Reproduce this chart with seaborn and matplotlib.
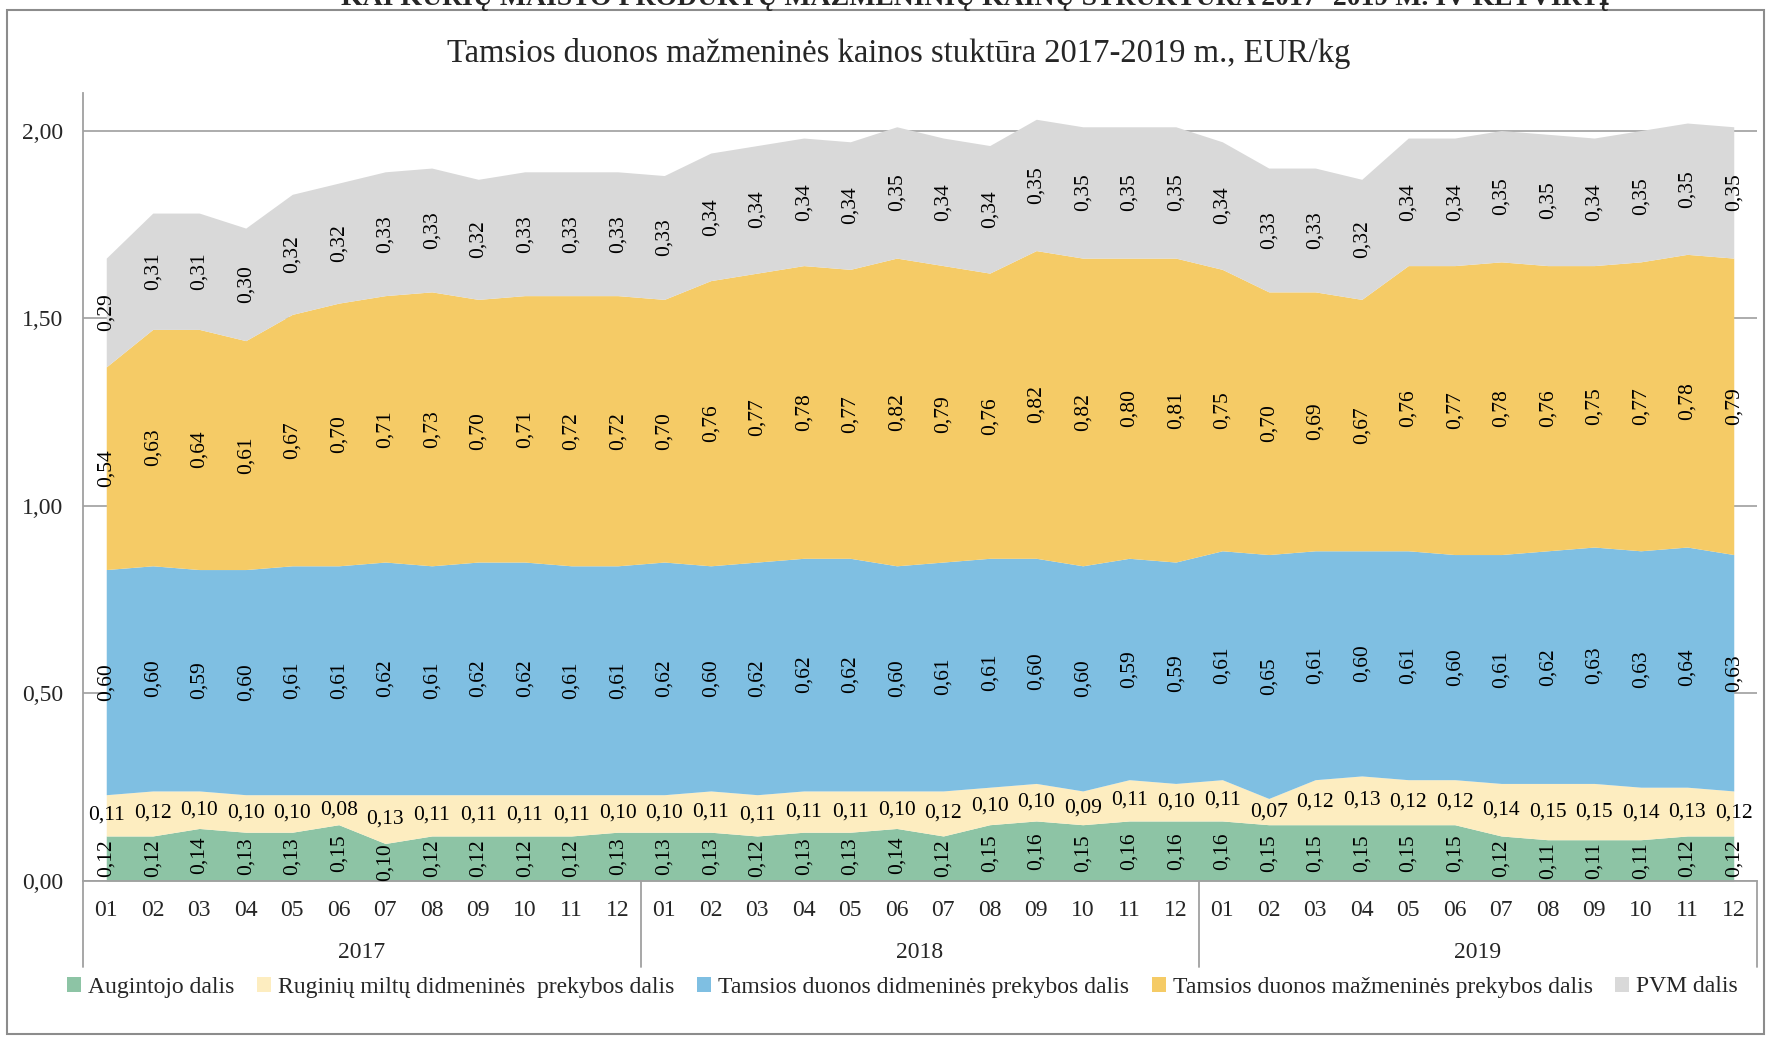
import numpy as np
import matplotlib
matplotlib.use("Agg")
import matplotlib.pyplot as plt
import matplotlib.transforms as mtransforms
from matplotlib.patches import Patch, Rectangle
import seaborn as sns

months = ["01", "02", "03", "04", "05", "06", "07", "08", "09", "10", "11", "12"]
years = ["2017", "2018", "2019"]

augintojo = [0.12, 0.12, 0.14, 0.13, 0.13, 0.15, 0.10, 0.12, 0.12, 0.12, 0.12, 0.13,
             0.13, 0.13, 0.12, 0.13, 0.13, 0.14, 0.12, 0.15, 0.16, 0.15, 0.16, 0.16,
             0.16, 0.15, 0.15, 0.15, 0.15, 0.15, 0.12, 0.11, 0.11, 0.11, 0.12, 0.12]
ruginiu = [0.11, 0.12, 0.10, 0.10, 0.10, 0.08, 0.13, 0.11, 0.11, 0.11, 0.11, 0.10,
           0.10, 0.11, 0.11, 0.11, 0.11, 0.10, 0.12, 0.10, 0.10, 0.09, 0.11, 0.10,
           0.11, 0.07, 0.12, 0.13, 0.12, 0.12, 0.14, 0.15, 0.15, 0.14, 0.13, 0.12]
didmenines = [0.60, 0.60, 0.59, 0.60, 0.61, 0.61, 0.62, 0.61, 0.62, 0.62, 0.61, 0.61,
              0.62, 0.60, 0.62, 0.62, 0.62, 0.60, 0.61, 0.61, 0.60, 0.60, 0.59, 0.59,
              0.61, 0.65, 0.61, 0.60, 0.61, 0.60, 0.61, 0.62, 0.63, 0.63, 0.64, 0.63]
mazmenines = [0.54, 0.63, 0.64, 0.61, 0.67, 0.70, 0.71, 0.73, 0.70, 0.71, 0.72, 0.72,
              0.70, 0.76, 0.77, 0.78, 0.77, 0.82, 0.79, 0.76, 0.82, 0.82, 0.80, 0.81,
              0.75, 0.70, 0.69, 0.67, 0.76, 0.77, 0.78, 0.76, 0.75, 0.77, 0.78, 0.79]
pvm = [0.29, 0.31, 0.31, 0.30, 0.32, 0.32, 0.33, 0.33, 0.32, 0.33, 0.33, 0.33,
       0.33, 0.34, 0.34, 0.34, 0.34, 0.35, 0.34, 0.34, 0.35, 0.35, 0.35, 0.35,
       0.34, 0.33, 0.33, 0.32, 0.34, 0.34, 0.35, 0.35, 0.34, 0.35, 0.35, 0.35]

series_names = ["Augintojo dalis",
                "Ruginių miltų didmeninės  prekybos dalis",
                "Tamsios duonos didmeninės prekybos dalis",
                "Tamsios duonos mažmeninės prekybos dalis",
                "PVM dalis"]
series = [augintojo, ruginiu, didmenines, mazmenines, pvm]
colors = sns.color_palette(["#8DC4A5", "#FDEDC0", "#7FBFE2", "#F5CB66", "#D9D9D9"])

sns.set_theme(style="white")
plt.rcParams["font.family"] = ["Liberation Serif", "DejaVu Serif"]

fig = plt.figure(figsize=(17.73, 10.38), dpi=100)
ax = fig.add_axes([83 / 1773, 1 - 881 / 1038, (1757 - 83) / 1773, (881 - 93) / 1038])

x = np.arange(len(augintojo))
ax.set_ylim(0, 2.1)
ax.set_xlim(-0.5, len(x) - 0.5)
yticks = [0, 0.5, 1.0, 1.5, 2.0]
ax.set_yticks(yticks)
ax.set_yticklabels([f"{v:.2f}".replace(".", ",") for v in yticks], fontsize=17)
ax.yaxis.grid(True, color="#a6a6a6", lw=1.3)
ax.set_axisbelow(True)
ax.tick_params(axis="y", length=0, pad=14)

ax.stackplot(x, *series, colors=colors, linewidth=0, zorder=2)

# data labels, centred in each band
bottom = np.zeros(len(x))
for k, vals in enumerate(series):
    vals = np.array(vals)
    for i, v in enumerate(vals):
        ax.text(i, bottom[i] + v / 2, f"{v:.2f}".replace(".", ","),
                rotation=0 if k == 1 else 90, ha="center", va="center",
                fontsize=15.5, color="black", zorder=5)
    bottom += vals

for side in ["top", "right"]:
    ax.spines[side].set_visible(False)
for side in ["left", "bottom"]:
    ax.spines[side].set_color("#a0a0a0")
    ax.spines[side].set_linewidth(1.3)

# month ticks and year groups
ax.set_xticks(x)
ax.set_xticklabels(months * len(years), fontsize=17)
ax.tick_params(axis="x", length=0, pad=14)

trans = mtransforms.blended_transform_factory(ax.transData, ax.transAxes)
for j in range(len(years) + 1):
    ax.plot([j * 12 - 0.5] * 2, [0, -0.109], transform=trans, color="#a0a0a0",
            lw=1.3, clip_on=False)
for j, yr in enumerate(years):
    ax.text(j * 12 + 5.5, -0.091, yr, transform=trans, ha="center", va="center", fontsize=17)

ax.set_title("Tamsios duonos mažmeninės kainos stuktūra 2017-2019 m., EUR/kg",
             fontsize=23.5, pad=22, x=0.487)

handles = [Patch(facecolor=c, edgecolor="none") for c in colors]
fig.legend(handles, series_names, loc="center", bbox_to_anchor=(0.509, 1 - 987 / 1038),
           ncol=5, frameon=False, fontsize=17, handlelength=0.6, handleheight=0.6,
           handletextpad=0.3, columnspacing=0.95)

fig.text(0.55, 1 - 5 / 1038, "KAI KURIŲ MAISTO PRODUKTŲ MAŽMENINIŲ KAINŲ STRUKTŪRA 2017- 2019 M. IV KETVIRTĮ",
         ha="center", va="baseline", fontsize=20, fontweight="bold")
fig.patches.append(Rectangle((7 / 1773, 1 - 1034 / 1038), (1764 - 7) / 1773, (1034 - 10) / 1038,
                             transform=fig.transFigure, fill=False, edgecolor="#8c8c8c", lw=1.5))

fig.savefig("out.png", dpi=100)
